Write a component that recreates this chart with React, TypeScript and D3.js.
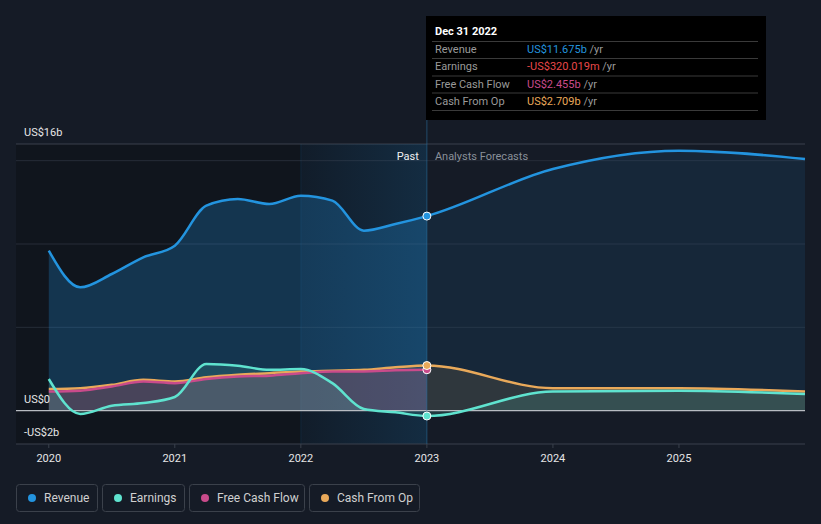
import * as d3 from "d3";

// values in US$ billions, quarterly history then annual forecasts
const pastDates = [2020, 2020.25, 2020.5, 2020.75, 2021, 2021.25, 2021.5, 2021.75, 2022, 2022.25, 2022.5, 2022.75, 2023];
const forecastDates = [2023, 2024, 2025, 2026];

const revenuePast = [9.6, 7.4, 8.2, 9.2, 9.9, 12.3, 12.7, 12.4, 12.9, 12.6, 10.8, 11.2, 11.675];
const revenueForecast = [11.675, 14.5, 15.6, 15.1];
const earningsPast = [1.9, -0.2, 0.3, 0.46, 0.82, 2.8, 2.7, 2.45, 2.5, 1.65, 0.1, -0.1, -0.32];
const earningsForecast = [-0.32, 1.15, 1.2, 1.0];
const fcfPast = [1.15, 1.2, 1.45, 1.75, 1.65, 1.9, 2.05, 2.1, 2.25, 2.35, 2.35, 2.42, 2.455];
const cfoPast = [1.3, 1.35, 1.55, 1.85, 1.75, 2.0, 2.15, 2.25, 2.35, 2.4, 2.45, 2.6, 2.709];
const cfoForecast = [2.709, 1.35, 1.35, 1.15];

const yearTicks = [2020, 2021, 2022, 2023, 2024, 2025];
const gridValues = [5, 10, 15];

const COLORS = {
  revenue: "#2394df",
  earnings: "#5fe3cf",
  fcf: "#c94b8b",
  cfo: "#e9a95a",
};

const legendItems = [
  { label: "Revenue", color: COLORS.revenue, w: 81 },
  { label: "Earnings", color: COLORS.earnings, w: 82 },
  { label: "Free Cash Flow", color: COLORS.fcf, w: 115 },
  { label: "Cash From Op", color: COLORS.cfo, w: 110 },
];

const tooltipRows = [
  { label: "Revenue", value: "US$11.675b", color: COLORS.revenue },
  { label: "Earnings", value: "-US$320.019m", color: "#e8484a" },
  { label: "Free Cash Flow", value: "US$2.455b", color: COLORS.fcf },
  { label: "Cash From Op", value: "US$2.709b", color: COLORS.cfo },
];

type Pt = { d: number; v: number };
const zip = (ds: number[], vs: number[]): Pt[] => ds.map((d, i) => ({ d, v: vs[i] }));

export default function App() {
  const width = 821;
  const height = 524;
  const left = 16;
  const right = 805;
  const top = 144;
  const bottom = 444;

  const x = d3.scaleLinear().domain([2019.74, 2026]).range([left, right]);
  const y = d3.scaleLinear().domain([-2, 16]).range([bottom, top]);

  const now = x(2023);
  const lastYear = x(2022);

  const revenue = [...zip(pastDates, revenuePast), ...zip(forecastDates, revenueForecast).slice(1)];
  const earnings = [...zip(pastDates, earningsPast), ...zip(forecastDates, earningsForecast).slice(1)];
  const fcf = zip(pastDates, fcfPast);
  const cfo = [...zip(pastDates, cfoPast), ...zip(forecastDates, cfoForecast).slice(1)];

  const line = d3
    .line<Pt>()
    .x((p) => x(p.d))
    .y((p) => y(p.v))
    .curve(d3.curveMonotoneX);
  const area = d3
    .area<Pt>()
    .x((p) => x(p.d))
    .y0(y(0))
    .y1((p) => y(p.v))
    .curve(d3.curveMonotoneX);

  const font = "Roboto, 'Noto Sans', sans-serif";

  return (
    <svg
      width={width}
      height={height}
      style={{ position: "absolute", left: 0, top: 0, background: "#151b26", fontFamily: font }}
    >
      <defs>
        <linearGradient id="hl" x1="0" x2="1" y1="0" y2="0">
          <stop offset="0%" stopColor="#2394df" stopOpacity={0.02} />
          <stop offset="100%" stopColor="#2394df" stopOpacity={0.15} />
        </linearGradient>
        <clipPath id="pastClip">
          <rect x={left} y={0} width={now - left} height={height} />
        </clipPath>
        <clipPath id="futClip">
          <rect x={now} y={0} width={right - now} height={height} />
        </clipPath>
      </defs>

      <rect x={0} y={0} width={width} height={height} fill="#151b26" />
      {/* past background */}
      <rect x={left} y={top} width={lastYear - left} height={bottom - top} fill="#10151d" />
      <rect x={lastYear} y={top} width={now - lastYear} height={bottom - top} fill="#111a26" />

      {/* grid */}
      <line x1={left} x2={right} y1={top} y2={top} stroke="#3a414c" />
      {gridValues.map((g) => (
        <line key={g} x1={left} x2={right} y1={y(g)} y2={y(g)} stroke="#262d38" />
      ))}

      {/* revenue area */}
      <path d={area(revenue) ?? ""} fill="#2394df" opacity={0.26} clipPath="url(#pastClip)" />
      <path d={area(revenue) ?? ""} fill="#2394df" opacity={0.1} clipPath="url(#futClip)" />

      {/* highlighted last year */}
      <rect x={lastYear} y={top} width={now - lastYear} height={bottom - top} fill="url(#hl)" />
      <line x1={lastYear} x2={lastYear} y1={top} y2={bottom} stroke="#2394df" strokeOpacity={0.12} />

      {/* other areas */}
      <path d={area(cfo) ?? ""} fill={COLORS.cfo} opacity={0.12} />
      <path d={area(fcf) ?? ""} fill={COLORS.fcf} opacity={0.18} />
      <path d={area(earnings) ?? ""} fill={COLORS.earnings} opacity={0.14} />

      {/* zero + axis lines */}
      <line x1={left} x2={right} y1={y(0)} y2={y(0)} stroke="#b8bcc2" strokeWidth={1.2} />
      <line x1={left} x2={right} y1={bottom} y2={bottom} stroke="#3a414c" />

      {/* series lines */}
      <path d={line(cfo) ?? ""} fill="none" stroke={COLORS.cfo} strokeWidth={2.5} />
      <path d={line(fcf) ?? ""} fill="none" stroke={COLORS.fcf} strokeWidth={2.5} />
      <path d={line(earnings) ?? ""} fill="none" stroke={COLORS.earnings} strokeWidth={2.5} />
      <path d={line(revenue) ?? ""} fill="none" stroke={COLORS.revenue} strokeWidth={2.5} />

      {/* hover line */}
      <line x1={now} x2={now} y1={120} y2={bottom} stroke="#2a6a9a" strokeOpacity={0.6} />

      {/* markers */}
      {[
        { v: 11.675, c: COLORS.revenue },
        { v: -0.32, c: COLORS.earnings },
        { v: 2.455, c: COLORS.fcf },
        { v: 2.709, c: COLORS.cfo },
      ].map((m, i) => (
        <circle key={i} cx={now} cy={y(m.v)} r={4} fill={m.c} stroke="#fff" strokeWidth={1} />
      ))}

      {/* y labels */}
      <g fontSize={11} fill="#e6e6e6">
        <text x={24} y={136}>US$16b</text>
        <text x={24} y={y(0) - 8}>US$0</text>
        <text x={24} y={y(-2) - 8}>-US$2b</text>
      </g>

      {/* x axis */}
      {yearTicks.map((t) => (
        <g key={t}>
          <line x1={x(t)} x2={x(t)} y1={bottom} y2={bottom + 4} stroke="#3a414c" />
          <text x={x(t)} y={462} textAnchor="middle" fontSize={11} fill="#e6e6e6">
            {t}
          </text>
        </g>
      ))}

      {/* past / forecast labels */}
      <text x={now - 8} y={160} textAnchor="end" fontSize={11} fill="#f0f0f0">Past</text>
      <text x={now + 8} y={160} fontSize={11} fill="#8a9099">Analysts Forecasts</text>

      {/* tooltip */}
      <g>
        <rect x={426} y={16} width={340} height={104} fill="#000" />
        <text x={435} y={35} fontSize={11} fontWeight="bold" fill="#fff">Dec 31 2022</text>
        {[41.5, 58.5, 76, 93, 110.5].map((ly) => (
          <line key={ly} x1={432} x2={758} y1={ly} y2={ly} stroke="#3a3a3a" />
        ))}
        {tooltipRows.map((r, i) => {
          const by = 53 + i * 17.3;
          return (
            <g key={r.label} fontSize={11}>
              <text x={435} y={by} fill="#9a9a9a">{r.label}</text>
              <text x={527} y={by}>
                <tspan fill={r.color}>{r.value}</tspan>
                <tspan fill="#9a9a9a"> /yr</tspan>
              </text>
            </g>
          );
        })}
      </g>

      {/* legend */}
      {(() => {
        let cx = 16;
        return legendItems.map((item) => {
          const gx = cx;
          cx += item.w + 5;
          return (
            <g key={item.label} transform={`translate(${gx},484)`}>
              <rect x={0.5} y={0.5} width={item.w} height={27} rx={3} fill="#151b26" stroke="#3b414b" />
              <circle cx={16} cy={14} r={4} fill={item.color} />
              <text x={28} y={18} fontSize={12} fill="#d0d0d0">{item.label}</text>
            </g>
          );
        });
      })()}
    </svg>
  );
}
